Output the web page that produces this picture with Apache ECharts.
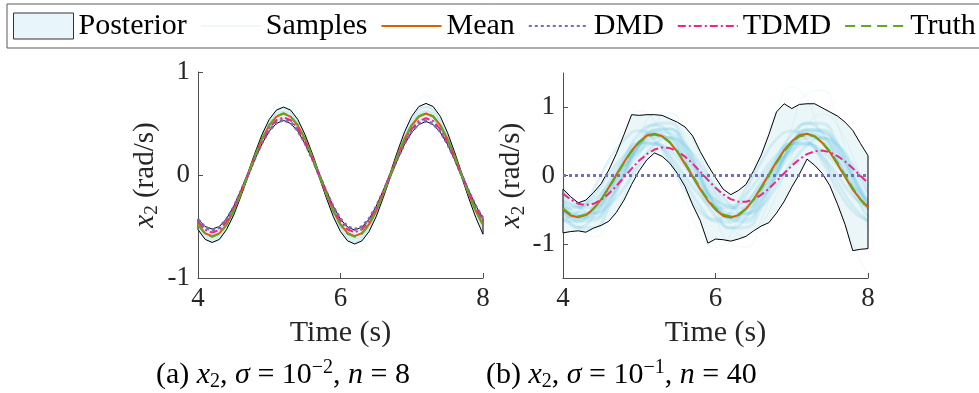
<!DOCTYPE html>
<html><head><meta charset="utf-8">
<script src="https://cdn.jsdelivr.net/npm/echarts@6/dist/echarts.min.js"></script>
<style>html,body{margin:0;padding:0;background:#fff}#c{width:979px;height:393px}</style>
</head><body><div id="c"></div>
<script>
// ---------- data ----------
const time = [4.0,4.1,4.2,4.3,4.4,4.5,4.6,4.7,4.8,4.9,5.0,5.1,5.2,5.3,5.4,5.5,5.6,5.7,5.8,5.9,6.0,6.1,6.2,6.3,6.4,6.5,6.6,6.7,6.8,6.9,7.0,7.1,7.2,7.3,7.4,7.5,7.6,7.7,7.8,7.9,8.0];
const timeCoarse = [4.0,4.2,4.4,4.6,4.8,5.0,5.2,5.4,5.6,5.8,6.0,6.2,6.4,6.6,6.8,7.0,7.2,7.4,7.6,7.8,8.0];
const xTicks = [4, 6, 8];
const yTicksLeft = [-1, 0, 1];
const yTicksRight = [-1, 0, 1];

const truth = [-0.485,-0.571,-0.600,-0.571,-0.485,-0.353,-0.185,0.000,0.185,0.353,
  0.485,0.571,0.600,0.571,0.485,0.353,0.185,0.000,-0.185,-0.353,
  -0.485,-0.571,-0.600,-0.571,-0.485,-0.353,-0.185,0.000,0.185,0.353,
  0.485,0.571,0.600,0.571,0.485,0.353,0.185,0.000,-0.185,-0.353,-0.485];

// (a) sigma = 1e-2, n = 8
const meanLeft = [-0.481,-0.566,-0.595,-0.566,-0.481,-0.350,-0.184,0.002,0.186,0.351,
  0.482,0.567,0.596,0.567,0.482,0.351,0.186,0.002,-0.183,-0.349,
  -0.480,-0.565,-0.594,-0.565,-0.480,-0.349,-0.183,0.002,0.187,0.352,
  0.483,0.568,0.597,0.568,0.483,0.352,0.187,0.002,-0.183,-0.349,-0.480];
const dmdLeft = [-0.433,-0.509,-0.535,-0.509,-0.433,-0.315,-0.165,0.000,0.165,0.315,
  0.433,0.509,0.535,0.509,0.432,0.314,0.164,0.000,-0.163,-0.311,
  -0.428,-0.503,-0.528,-0.502,-0.427,-0.310,-0.163,0.000,0.162,0.308,
  0.424,0.498,0.523,0.497,0.422,0.306,0.161,0.000,-0.161,-0.306,-0.421];
const tdmdLeft = [-0.453,-0.533,-0.560,-0.533,-0.453,-0.329,-0.173,0.000,0.173,0.329,
  0.453,0.533,0.560,0.532,0.452,0.328,0.172,0.000,-0.172,-0.327,
  -0.450,-0.529,-0.556,-0.528,-0.449,-0.326,-0.171,0.000,0.170,0.324,
  0.446,0.524,0.551,0.524,0.445,0.324,0.170,0.000,-0.170,-0.323,-0.445];
const upperLeft = [-0.430,-0.500,-0.525,-0.500,-0.425,-0.305,-0.150,0.020,0.215,0.395,
  0.540,0.630,0.660,0.630,0.540,0.395,0.215,0.020,-0.150,-0.305,
  -0.430,-0.505,-0.535,-0.505,-0.430,-0.305,-0.150,0.025,0.230,0.420,
  0.570,0.665,0.695,0.665,0.570,0.415,0.225,0.020,-0.150,-0.300,-0.420];
const lowerLeft = [-0.530,-0.625,-0.655,-0.625,-0.530,-0.390,-0.210,-0.020,0.155,0.305,
  0.425,0.500,0.530,0.500,0.425,0.305,0.155,-0.020,-0.220,-0.405,
  -0.550,-0.640,-0.670,-0.640,-0.550,-0.405,-0.220,-0.020,0.150,0.300,
  0.415,0.490,0.520,0.490,0.415,0.300,0.150,-0.020,-0.225,-0.415,-0.575];
const samplesLeft = [
  [-0.47,-0.58,-0.47,-0.18,0.18,0.47,0.58,0.47,0.18,-0.18,-0.47,-0.58,-0.47,-0.18,0.18,0.47,0.58,0.47,0.18,-0.18,-0.47],
  [-0.50,-0.62,-0.50,-0.19,0.19,0.50,0.62,0.50,0.19,-0.19,-0.50,-0.62,-0.50,-0.19,0.19,0.50,0.62,0.50,0.19,-0.19,-0.50],
  [-0.44,-0.55,-0.44,-0.17,0.17,0.44,0.55,0.44,0.17,-0.17,-0.44,-0.55,-0.44,-0.17,0.17,0.44,0.55,0.44,0.17,-0.17,-0.44],
  [-0.53,-0.65,-0.53,-0.20,0.20,0.53,0.65,0.53,0.20,-0.20,-0.53,-0.65,-0.53,-0.20,0.20,0.53,0.66,0.53,0.20,-0.20,-0.53]
];
const outliersLeft = [
  [-0.56,-0.70,-0.57,-0.22,0.22,0.58,0.72,0.59,0.23,-0.23,-0.60,-0.74,-0.60,-0.23,0.24,0.62,0.77,0.62,0.24,-0.24,-0.62]
];

// (b) sigma = 1e-1, n = 40
const meanRight = [-0.500,-0.585,-0.610,-0.580,-0.490,-0.350,-0.175,0.010,0.195,0.365,
  0.495,0.585,0.610,0.575,0.485,0.345,0.170,-0.015,-0.200,-0.370,
  -0.500,-0.590,-0.615,-0.580,-0.490,-0.350,-0.170,0.015,0.200,0.370,
  0.500,0.590,0.610,0.575,0.480,0.340,0.165,-0.020,-0.205,-0.345,-0.465];
const dmdRightTime = [4, 8];
const dmdRight = [0, 0];
const tdmdRight = [-0.265,-0.353,-0.412,-0.433,-0.414,-0.357,-0.267,-0.153,-0.027,0.101,
  0.218,0.314,0.380,0.409,0.401,0.355,0.277,0.174,0.056,-0.065,
  -0.180,-0.276,-0.346,-0.383,-0.384,-0.350,-0.283,-0.191,-0.083,0.032,
  0.143,0.239,0.312,0.355,0.365,0.341,0.285,0.204,0.105,-0.003,-0.109];
const upperRight = [-0.20,-0.31,-0.40,-0.36,-0.25,-0.12,0.08,0.32,0.60,0.89,
  0.88,0.89,0.89,0.88,0.83,0.78,0.71,0.58,0.35,0.15,
  -0.03,-0.20,-0.28,-0.22,-0.13,0.07,0.30,0.60,0.93,1.05,
  0.98,1.04,1.05,1.05,0.99,0.93,0.87,0.78,0.66,0.47,0.29];
const lowerRight = [-0.84,-0.82,-0.81,-0.83,-0.77,-0.73,-0.67,-0.54,-0.36,-0.13,
  0.07,0.23,0.33,0.28,0.18,0.03,-0.16,-0.43,-0.66,-0.99,
  -0.93,-0.94,-0.96,-0.93,-0.89,-0.81,-0.74,-0.69,-0.55,-0.38,
  -0.17,0.02,0.24,0.15,0.03,-0.15,-0.42,-0.72,-1.10,-1.08,-1.07];
const samplesRight = [
  [-0.49,-0.58,-0.50,-0.17,0.20,0.47,0.62,0.49,0.17,-0.20,-0.47,-0.62,-0.48,-0.19,0.19,0.50,0.59,0.47,0.20,-0.18,-0.50],
  [-0.41,-0.67,-0.66,-0.40,0.02,0.42,0.66,0.68,0.40,-0.02,-0.43,-0.65,-0.68,-0.40,0.03,0.43,0.67,0.65,0.40,0.01,-0.42],
  [-0.48,-0.46,-0.30,0.02,0.29,0.48,0.46,0.30,-0.01,-0.30,-0.47,-0.48,-0.28,0.01,0.30,0.47,0.48,0.29,0.00,-0.30,-0.47],
  [-0.62,-0.76,-0.60,-0.25,0.24,0.62,0.74,0.60,0.22,-0.25,-0.60,-0.77,-0.62,-0.22,0.25,0.60,0.76,0.62,0.22,-0.24,-0.61],
  [-0.16,-0.45,-0.55,-0.44,-0.18,0.16,0.45,0.55,0.44,0.17,-0.17,-0.44,-0.56,-0.45,-0.16,0.18,0.44,0.55,0.45,0.16,-0.17],
  [-0.65,-0.52,-0.20,0.21,0.52,0.66,0.52,0.19,-0.21,-0.53,-0.64,-0.53,-0.19,0.20,0.53,0.65,0.52,0.21,-0.20,-0.52,-0.66],
  [-0.37,-0.45,-0.36,-0.13,0.15,0.36,0.46,0.37,0.13,-0.15,-0.36,-0.44,-0.37,-0.14,0.14,0.37,0.45,0.36,0.14,-0.14,-0.37],
  [-0.47,-0.76,-0.77,-0.46,0.01,0.48,0.75,0.77,0.46,-0.01,-0.47,-0.77,-0.76,-0.48,0.01,0.46,0.77,0.76,0.47,0.00,-0.46],
  [-0.67,-0.67,-0.45,-0.10,0.25,0.47,0.48,0.25,-0.10,-0.45,-0.67,-0.68,-0.44,-0.09,0.25,0.47,0.47,0.26,-0.10,-0.45,-0.67],
  [-0.25,-0.47,-0.47,-0.25,0.10,0.45,0.67,0.68,0.45,0.10,-0.25,-0.47,-0.48,-0.25,0.11,0.45,0.67,0.67,0.45,0.10,-0.25],
  [-0.52,-0.62,-0.52,-0.22,0.15,0.46,0.60,0.52,0.22,-0.15,-0.48,-0.60,-0.52,-0.22,0.16,0.48,0.62,0.52,0.22,-0.15,-0.50],
  [-0.35,-0.55,-0.56,-0.34,0.00,0.34,0.55,0.56,0.35,0.01,-0.34,-0.56,-0.55,-0.35,0.00,0.35,0.55,0.55,0.34,0.00,-0.35],
  [-0.56,-0.64,-0.56,-0.28,0.10,0.42,0.58,0.55,0.28,-0.08,-0.44,-0.61,-0.58,-0.30,0.08,0.42,0.60,0.56,0.28,-0.08,-0.45],
  [-0.42,-0.60,-0.62,-0.38,0.06,0.44,0.64,0.62,0.36,-0.06,-0.40,-0.63,-0.64,-0.38,0.05,0.44,0.65,0.63,0.37,-0.05,-0.41]
];
const outliersRight = [
  [-0.28,-0.73,-0.90,-0.73,-0.28,0.28,0.73,0.90,0.73,0.28,-0.28,-0.73,-0.90,-0.73,-0.28,0.28,0.73,0.90,0.73,0.28,-0.28],
  [-0.60,-0.55,-0.20,0.25,0.70,0.95,0.80,0.30,-0.30,-0.85,-1.05,-0.85,-0.30,0.35,0.95,1.30,1.10,0.45,-0.35,-1.00,-1.45],
  [-0.50,-0.80,-0.82,-0.50,0.00,0.55,0.90,0.92,0.55,0.00,-0.60,-1.00,-1.05,-0.65,0.00,0.70,1.20,1.25,0.75,0.00,-0.80]
];

// ---------- styling ----------
const FONT = 'Liberation Serif';
const C_MEAN = '#d95f02', C_DMD = '#7570b3', C_TDMD = '#e7298a', C_TRUTH = '#66a61e';
const C_AXIS = '#4d4d4d', C_TEXT = '#262626';
const BAND_FILL = '#eaf6f7';
const SAMPLE_COLOR = 'rgba(80,185,225,0.16)';
const OUTLIER_COLOR = 'rgba(80,185,225,0.08)';

function pairs(t, v) { return t.map((x, i) => [x, v[i]]); }

function band(name, up, lo, gi, fill, stroke, z) {
  return {
    type: 'custom', name: name, xAxisIndex: gi, yAxisIndex: gi, z: z, silent: true,
    data: [[4, 0]],
    renderItem: function (params, api) {
      const pts = [];
      for (let i = 0; i < time.length; i++) pts.push(api.coord([time[i], up[i]]));
      for (let i = time.length - 1; i >= 0; i--) pts.push(api.coord([time[i], lo[i]]));
      return { type: 'polygon', shape: { points: pts },
        style: { fill: fill, stroke: stroke, lineWidth: 1 } };
    }
  };
}

function line(name, t, v, gi, color, width, dash, z, extra) {
  return Object.assign({
    type: 'line', name: name, xAxisIndex: gi, yAxisIndex: gi, data: pairs(t, v),
    symbol: 'none', showSymbol: false, silent: true, z: z, clip: true,
    lineStyle: { color: color, width: width, type: dash, cap: 'butt' },
    itemStyle: { color: color }
  }, extra || {});
}

const series = [];
[[0, upperLeft, lowerLeft, samplesLeft, outliersLeft, meanLeft, dmdLeft, time, tdmdLeft, 2],
 [1, upperRight, lowerRight, samplesRight, outliersRight, meanRight, dmdRight, dmdRightTime, tdmdRight, 3]].forEach(function (g) {
  const gi = g[0];
  series.push(band('Posterior', g[1], g[2], gi, BAND_FILL, null, 1));
  g[3].forEach(function (s) {
    series.push(line('Samples', timeCoarse, s, gi, SAMPLE_COLOR, g[9], 'solid', 2, { smooth: true }));
  });
  g[4].forEach(function (s) {
    series.push(line('Samples', timeCoarse, s, gi, OUTLIER_COLOR, 1.2, 'solid', 2, { smooth: true }));
  });
  series.push(band('PosteriorEdge', g[1], g[2], gi, 'none', '#000', 3));
  series.push(line('Mean', time, g[5], gi, C_MEAN, 2, 'solid', 4));
  series.push(line('DMD', g[7], g[6], gi, C_DMD, 3, [3, 3], 5));
  series.push(line('TDMD', time, g[8], gi, C_TDMD, 2, [8, 3, 2, 3], 6));
  series.push(line('Truth', time, truth, gi, C_TRUTH, 2, [10, 6], 7));
});

const labelStyle = { fontFamily: FONT, fontSize: 27, color: C_TEXT };
const nameRich = {
  i: { fontFamily: FONT, fontSize: 29, fontStyle: 'italic', color: C_TEXT, lineHeight: 34 },
  sub: { fontFamily: FONT, fontSize: 19, color: C_TEXT, lineHeight: 19, verticalAlign: 'bottom' },
  n: { fontFamily: FONT, fontSize: 29, color: C_TEXT, lineHeight: 34 }
};
const yName = '{i|x}{sub|2}{n| (rad/s)}';

function xAxis(gi) {
  return {
    type: 'value', gridIndex: gi, min: 4, max: 8, interval: 2, position: 'bottom',
    name: 'Time (s)', nameLocation: 'middle', nameGap: 40,
    nameTextStyle: { fontFamily: FONT, fontSize: 30, color: C_TEXT },
    axisLine: { show: true, onZero: false, lineStyle: { color: C_AXIS, width: 1 } },
    axisTick: { show: true, inside: true, length: 5, lineStyle: { color: C_AXIS }, customValues: xTicks },
    axisLabel: Object.assign({ margin: 7, customValues: xTicks }, labelStyle),
    splitLine: { show: false }
  };
}
function yAxis(gi, min, max, ticks, gap) {
  return {
    type: 'value', gridIndex: gi, min: min, max: max, position: 'left',
    name: yName, nameLocation: 'middle', nameRotate: 90, nameGap: gap,
    nameTextStyle: { rich: nameRich },
    axisLine: { show: true, onZero: false, lineStyle: { color: C_AXIS, width: 1 } },
    axisTick: { show: true, inside: true, length: 5, lineStyle: { color: C_AXIS }, customValues: ticks },
    axisLabel: Object.assign({ margin: 8, customValues: ticks }, labelStyle),
    splitLine: { show: false }
  };
}

const capBase = { fontFamily: FONT, fontWeight: 'normal', color: '#000' };
const capRich = {
  n: Object.assign({ fontSize: 30, lineHeight: 34 }, capBase),
  i: Object.assign({ fontSize: 30, lineHeight: 34, fontStyle: 'italic' }, capBase),
  sub: Object.assign({ fontSize: 20, lineHeight: 20, verticalAlign: 'bottom' }, capBase),
  sup: Object.assign({ fontSize: 20, lineHeight: 20, verticalAlign: 'top' }, capBase)
};

const option = {
  animation: false,
  backgroundColor: '#fff',
  title: [
    { text: '{n|(a) }{i|x}{sub|2}{n|, }{i|σ}{n| = 10}{sup|−2}{n|, }{i|n}{n| = 8}',
      left: 156, top: 358, padding: 0, textStyle: { fontWeight: 'normal', rich: capRich } },
    { text: '{n|(b) }{i|x}{sub|2}{n|, }{i|σ}{n| = 10}{sup|−1}{n|, }{i|n}{n| = 40}',
      left: 486, top: 358, padding: 0, textStyle: { fontWeight: 'normal', rich: capRich } }
  ],
  legend: {
    left: 7, top: 4, width: 1000, padding: [7, 6, 7, 6], itemGap: 13, itemWidth: 60, itemHeight: 26,
    borderColor: '#5a5a5a', borderWidth: 1, selectedMode: false,
    itemStyle: { opacity: 0 },
    textStyle: { fontFamily: FONT, fontSize: 30, color: '#000' },
    data: [
      { name: 'Posterior', icon: 'rect', itemStyle: { color: '#e8f5fb', borderColor: '#333', borderWidth: 1, opacity: 1 } },
      { name: 'Samples', lineStyle: { color: 'rgba(80,185,225,0.10)', width: 2 } },
      'Mean', 'DMD', 'TDMD', 'Truth'
    ]
  },
  grid: [
    { left: 198, top: 72, width: 285, height: 206 },
    { left: 563, top: 73, width: 305, height: 205 }
  ],
  xAxis: [xAxis(0), xAxis(1)],
  yAxis: [yAxis(0, -1, 1, yTicksLeft, 36), yAxis(1, -1.5, 1.5, yTicksRight, 33)],
  series: series
};

const chart = echarts.init(document.getElementById('c'), null, { renderer: 'canvas' });
chart.setOption(option);
</script>
</body></html>
